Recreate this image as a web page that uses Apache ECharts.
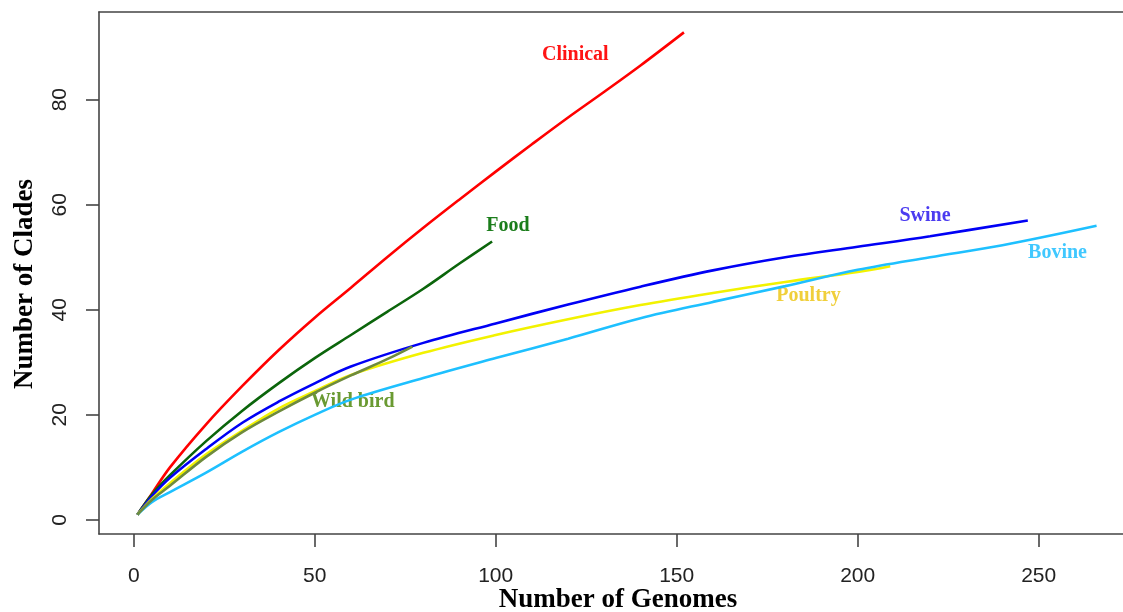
<!DOCTYPE html>
<html>
<head>
<meta charset="utf-8">
<script src="https://cdn.jsdelivr.net/npm/echarts@6/dist/echarts.min.js"></script>
<style>
  html, body { margin: 0; padding: 0; background: #ffffff; }
  #chart { width: 1123px; height: 612px; }
</style>
</head>
<body>
<div id="chart"></div>
<script>
// Rarefaction curves: number of clades found vs. number of genomes sampled, per source.
const sources = ['Clinical', 'Food', 'Swine', 'Poultry', 'Bovine', 'Wild bird'];

const clinicalGenomes = [1, 5, 10, 20, 30, 40, 50, 60, 70, 80, 90, 100, 110, 120, 130, 140, 152];
const clinicalClades  = [1, 5, 10, 18.2, 25.5, 32.3, 38.5, 44.2, 50, 55.6, 61, 66.3, 71.5, 76.6, 81.5, 86.5, 92.8];

const foodGenomes = [1, 5, 10, 20, 30, 40, 50, 60, 70, 80, 90, 99];
const foodClades  = [1, 4.8, 8.5, 15, 20.8, 26, 30.8, 35.2, 39.6, 44, 48.8, 53];

const swineGenomes = [1, 5, 10, 20, 30, 40, 50, 60, 80, 100, 120, 140, 160, 180, 200, 220, 247];
const swineClades  = [1, 4.5, 8, 13.5, 18.5, 22.5, 26, 29.2, 33.7, 37.4, 41, 44.4, 47.5, 50, 52, 54, 57];

const poultryGenomes = [1, 5, 10, 20, 30, 40, 50, 60, 80, 100, 120, 140, 160, 180, 200, 209];
const poultryClades  = [1, 4, 7, 12.5, 17, 21.2, 24.5, 27.6, 31.8, 35.2, 38.2, 40.9, 43.2, 45.3, 47.2, 48.3];

const bovineGenomes = [1, 5, 10, 20, 30, 40, 50, 60, 80, 100, 120, 140, 160, 180, 200, 220, 240, 266];
const bovineClades  = [1, 3.4, 5.3, 9, 13, 16.7, 20, 22.9, 27, 30.8, 34.5, 38.4, 41.5, 44.5, 47.6, 50, 52.3, 56];

const wildBirdGenomes = [1, 5, 10, 20, 30, 40, 50, 60, 70, 77];
const wildBirdClades  = [1, 3.8, 6.5, 12, 16.7, 20.6, 24.2, 27.5, 30.6, 33];

// Tick values shown on each axis
const xTicks = [0, 50, 100, 150, 200, 250];
const yTicks = [0, 20, 40, 60, 80];

// Where each source name is written, in data units
const labelGenomes = [122.0, 103.4, 218.6, 186.4, 255.2, 60.5];
const labelClades  = [88.5, 56.0, 57.8, 42.6, 50.9, 22.4];

const lineColors  = ['#ff0000', '#0b650b', '#0000f5', '#f2f200', '#1ec0ff', '#6e8b3d'];
const labelColors = ['#ff1414', '#1b7d1b', '#4b3bf0', '#f0cf3a', '#40c8ff', '#6a9a32'];

const genomeSets = [clinicalGenomes, foodGenomes, swineGenomes, poultryGenomes, bovineGenomes, wildBirdGenomes];
const cladeSets  = [clinicalClades, foodClades, swineClades, poultryClades, bovineClades, wildBirdClades];

const zip = (xs, ys) => xs.map((x, i) => [x, ys[i]]);

const series = sources.map((name, i) => ({
  name: name,
  type: 'line',
  xAxisIndex: 0,
  yAxisIndex: 0,
  data: zip(genomeSets[i], cladeSets[i]),
  smooth: 0.35,
  showSymbol: false,
  symbol: 'none',
  z: 2 + i,
  lineStyle: { color: lineColors[i], width: 2.6 },
  markPoint: {
    symbol: 'circle',
    symbolSize: 0,
    data: [{ coord: [labelGenomes[i], labelClades[i]], value: name }],
    label: {
      show: true,
      position: 'inside',
      formatter: name,
      color: labelColors[i],
      fontFamily: 'Liberation Serif',
      fontWeight: 'bold',
      fontSize: 20
    }
  }
}));

const frameLine = { show: true, onZero: false, lineStyle: { color: '#444444', width: 1.6 } };
const tickStyle = { color: '#444444', width: 1.6 };
const X_MIN = -9.6, X_MAX = 273.3;

const chart = echarts.init(document.getElementById('chart'), null, { renderer: 'canvas' });

chart.setOption({
  animation: false,
  backgroundColor: '#ffffff',
  grid: {
    show: false,
    left: 99,
    top: 12,
    right: 0,
    bottom: 78
  },
  xAxis: [
    {
      type: 'value',
      position: 'bottom',
      min: X_MIN,
      max: X_MAX,
      axisLine: frameLine,
      splitLine: { show: false },
      axisTick: {
        show: true,
        inside: false,
        length: 13,
        customValues: xTicks,
        lineStyle: tickStyle
      },
      axisLabel: {
        show: true,
        customValues: xTicks,
        margin: 32,
        color: '#222222',
        fontFamily: 'Liberation Sans',
        fontSize: 21
      }
    },
    {
      // top edge of the plot frame
      type: 'value',
      position: 'top',
      min: X_MIN,
      max: X_MAX,
      axisLine: frameLine,
      axisTick: { show: false },
      axisLabel: { show: false },
      splitLine: { show: false }
    }
  ],
  yAxis: {
    type: 'value',
    min: -2.68,
    max: 96.68,
    axisLine: frameLine,
    splitLine: { show: false },
    axisTick: {
      show: true,
      inside: false,
      length: 13,
      customValues: yTicks,
      lineStyle: tickStyle
    },
    axisLabel: {
      show: true,
      customValues: yTicks,
      rotate: 90,
      margin: 28,
      color: '#222222',
      fontFamily: 'Liberation Sans',
      fontSize: 21
    }
  },
  graphic: [
    {
      type: 'text',
      x: 618,
      y: 600,
      style: {
        text: 'Number of Genomes',
        font: 'bold 27px "Liberation Serif"',
        fill: '#000000',
        textAlign: 'center',
        textVerticalAlign: 'middle'
      }
    },
    {
      type: 'text',
      x: 25,
      y: 284,
      rotation: Math.PI / 2,
      style: {
        text: 'Number of Clades',
        font: 'bold 27px "Liberation Serif"',
        fill: '#000000',
        textAlign: 'center',
        textVerticalAlign: 'middle'
      }
    }
  ],
  series: series
});
</script>
</body>
</html>
